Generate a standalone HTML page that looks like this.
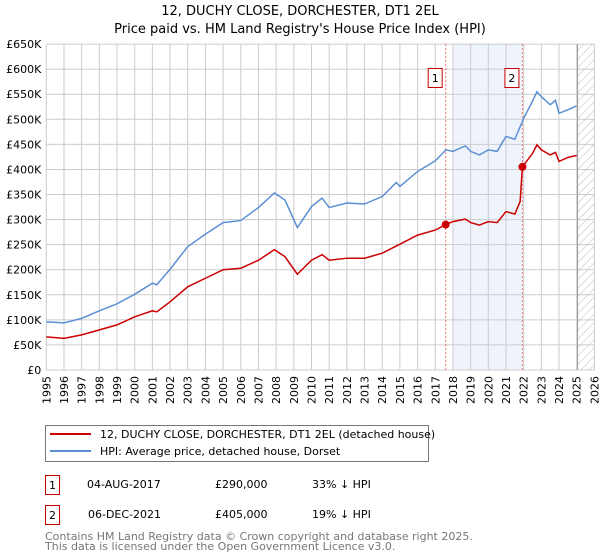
<!DOCTYPE html>
<html><head><meta charset="utf-8"><style>
body{margin:0;background:#fff;font-family:"Liberation Sans","DejaVu Sans",sans-serif;}
#wrap{position:relative;width:600px;height:560px;overflow:hidden;}
svg text{font-family:"DejaVu Sans","Liberation Sans",sans-serif;}
</style></head><body><div id="wrap">
<svg id="c" width="600" height="560" xmlns="http://www.w3.org/2000/svg">
<defs><pattern id="hatch" width="6" height="6" patternUnits="userSpaceOnUse" patternTransform="rotate(45)"><line x1="0" y1="0" x2="0" y2="6" stroke="#bbb" stroke-width="1"/></pattern></defs>
<text x="300" y="15" text-anchor="middle" font-size="13">12, DUCHY CLOSE, DORCHESTER, DT1 2EL</text>
<text x="300" y="33" text-anchor="middle" font-size="13">Price paid vs. HM Land Registry's House Price Index (HPI)</text>
<g id="plot"></g>
<g>
<rect x="45.5" y="425.5" width="383" height="36" fill="#fff" stroke="#777"/>
<line x1="50" y1="434" x2="91" y2="434" stroke="#cc0000" stroke-width="2"/>
<text x="100" y="438" font-size="11">12, DUCHY CLOSE, DORCHESTER, DT1 2EL (detached house)</text>
<line x1="50" y1="451" x2="91" y2="451" stroke="#5b8fd4" stroke-width="2"/>
<text x="100" y="455" font-size="11">HPI: Average price, detached house, Dorset</text>
</g>
<g font-size="11">
<rect x="45.5" y="475.5" width="14" height="19" fill="#fff" stroke="#cc0000"/><text x="52.5" y="489" text-anchor="middle">1</text>
<text x="87" y="488">04-AUG-2017</text><text x="215" y="488">£290,000</text><text x="312" y="488">33% ↓ HPI</text>
<rect x="45.5" y="505.5" width="14" height="19" fill="#fff" stroke="#cc0000"/><text x="52.5" y="519" text-anchor="middle">2</text>
<text x="88" y="518">06-DEC-2021</text><text x="215" y="518">£405,000</text><text x="312" y="518">19% ↓ HPI</text>
</g>
<text x="45" y="540" font-size="11" fill="#777">Contains HM Land Registry data © Crown copyright and database right 2025.</text>
<text x="45" y="550" font-size="11" fill="#777">This data is licensed under the Open Government Licence v3.0.</text>
</svg></div>
<script>
const yTicks=[0,50,100,150,200,250,300,350,400,450,500,550,600,650];
const years=[1995,1996,1997,1998,1999,2000,2001,2002,2003,2004,2005,2006,2007,2008,2009,2010,2011,2012,2013,2014,2015,2016,2017,2018,2019,2020,2021,2022,2023,2024,2025,2026];
const hpiT=[1995,1996,1997,1998,1999,2000,2001,2001.25,2002,2003,2004,2005,2006,2007,2007.9,2008.5,2009.2,2010,2010.6,2011,2012,2013,2014,2014.8,2015,2016,2017,2017.6,2018,2018.7,2019,2019.5,2020,2020.5,2021,2021.5,2022,2022.5,2022.75,2023,2023.5,2023.8,2024,2024.5,2025];
const hpiV=[96,94,103,118,132,151,173,170,201,246,271,294,298,324,353,339,284,326,343,324,333,331,346,374,366,396,417,439,436,447,436,429,439,436,466,460,502,536,555,545,529,538,512,519,527];
const propT=[1995,1996,1997,1998,1999,2000,2001,2001.25,2002,2003,2004,2005,2006,2007,2007.9,2008.5,2009.2,2010,2010.6,2011,2012,2013,2014,2015,2016,2017,2017.59,2018,2018.7,2019,2019.5,2020,2020.5,2021,2021.5,2021.8,2021.93,2022.5,2022.75,2023,2023.5,2023.8,2024,2024.5,2025];
const propV=[66,63,70,80,90,106,118,116,136,166,183,200,203,219,240,226,191,219,230,219,223,223,233,251,269,279,290,296,301,294,289,296,294,316,311,336,405,432,449,439,429,434,416,424,428];
const saleT=[2017.59,2021.93];
const saleV=[290,405];
const saleLabels=["1","2"];
const X0=46.3,XS=17.68,Y0=370,YS=0.5014;
const x=t=>X0+(t-1995)*XS, y=v=>Y0-v*YS;
const NS="http://www.w3.org/2000/svg", g=document.getElementById('plot');
function mk(tag,a){const e=document.createElementNS(NS,tag);for(const k in a)e.setAttribute(k,a[k]);g.appendChild(e);return e;}
let e;
e=mk('rect',{x:x(2018),y:y(650),width:x(2021.93)-x(2018),height:y(0)-y(650),fill:'#eef3fc'});


for(const yr of years){e=mk('line',{x1:x(yr),x2:x(yr),y1:y(650),y2:y(0),stroke:'#ccc'});


e=mk('text',{x:0,y:0,'font-size':11,transform:`translate(${x(yr)+4},${y(0)+6}) rotate(-90)`,'text-anchor':'end'});e.textContent=yr;

}
for(const v of yTicks){e=mk('line',{x1:x(1995),x2:x(2026),y1:y(v),y2:y(v),stroke:'#ccc'});


e=mk('text',{x:x(1995)-5,y:y(v)+4,'font-size':11,'text-anchor':'end'});e.textContent=v===0?'£0':'£'+v+'K';

}
e=mk('rect',{x:x(2025.05),y:y(650),width:x(2026)-x(2025.05),height:y(0)-y(650),fill:'url(#hatch)'});


e=mk('line',{x1:x(2025.05),x2:x(2025.05),y1:y(650),y2:y(0),stroke:'#999'});


saleT.forEach((t,i)=>{e=mk('line',{x1:x(t),x2:x(t),y1:y(650),y2:y(0),stroke:'#f07070','stroke-dasharray':'2,2'});

});
e=mk('polyline',{points:hpiT.map((t,i)=>x(t)+','+y(hpiV[i])).join(' '),fill:'none',stroke:'#5b8fd4','stroke-width':1.5});


e=mk('polyline',{points:propT.map((t,i)=>x(t)+','+y(propV[i])).join(' '),fill:'none',stroke:'#cc0000','stroke-width':1.5});


saleT.forEach((t,i)=>{e=mk('circle',{cx:x(t),cy:y(saleV[i]),r:4,fill:'#cc0000'});


e=mk('rect',{x:x(t)-17.5,y:68.5,width:14,height:19,fill:'#fff',stroke:'#cc0000'});


e=mk('text',{x:x(t)-10.5,y:82,'font-size':11,'text-anchor':'middle'});e.textContent=saleLabels[i];

});
</script></body></html>
